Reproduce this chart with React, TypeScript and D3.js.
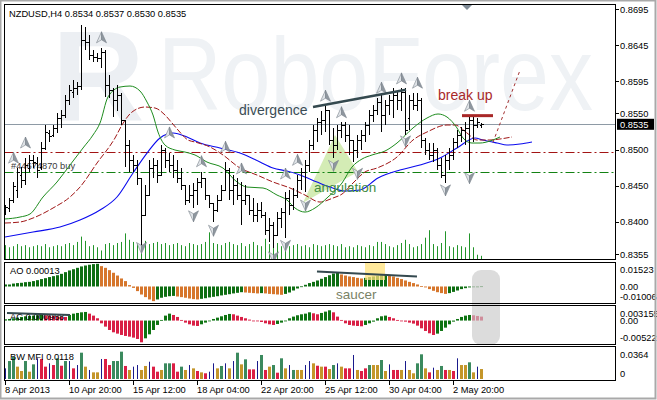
import React from "react";
import * as d3 from "d3";

// ---------- price data (H4 bars, 8 Apr 2013 04:00 .. 3 May 2013) ----------
const opens = [
  0.8413, 0.8419, 0.843, 0.8444, 0.8465, 0.8458, 0.8474, 0.8485, 0.8481, 0.8476,
  0.8502, 0.8523, 0.852, 0.853, 0.8544, 0.8548, 0.8569, 0.858, 0.8585, 0.8588,
  0.8652, 0.8649, 0.8631, 0.8628, 0.8627, 0.8635, 0.859, 0.8583, 0.8569, 0.8576,
  0.8541, 0.8506, 0.8485, 0.8478, 0.8461, 0.8409, 0.8437, 0.8474, 0.8478, 0.8465,
  0.8499, 0.8485, 0.8478, 0.8472, 0.8461, 0.8451, 0.843, 0.8437, 0.8444, 0.8455,
  0.8461, 0.8437, 0.8426, 0.8416, 0.843, 0.8444, 0.8472, 0.8444, 0.8451, 0.8437,
  0.843, 0.8437, 0.8416, 0.8409, 0.8416, 0.8409, 0.8388, 0.8395, 0.8381, 0.8405,
  0.8413, 0.8433, 0.8423, 0.8437, 0.8458, 0.8469, 0.8478, 0.8506, 0.8527, 0.8538,
  0.8541, 0.8555, 0.8513, 0.8506, 0.8527, 0.8534, 0.852, 0.8513, 0.8499, 0.8513,
  0.852, 0.8534, 0.8548, 0.8555, 0.8566, 0.8548, 0.8562, 0.8569, 0.8576, 0.8569,
  0.858, 0.8544, 0.8569, 0.8562, 0.8569, 0.8513, 0.8499, 0.8492, 0.8499, 0.8478,
  0.8465, 0.8485, 0.8492, 0.851, 0.852, 0.8527, 0.853, 0.8541, 0.8534, 0.8534,
];
const highs = [
  0.8423, 0.8433, 0.8455, 0.8474, 0.8476, 0.8488, 0.8492, 0.8492, 0.849, 0.851,
  0.8534, 0.8527, 0.8534, 0.8551, 0.8555, 0.8576, 0.859, 0.8596, 0.8594, 0.8673,
  0.867, 0.8659, 0.8638, 0.8634, 0.8641, 0.8638, 0.8603, 0.8585, 0.859, 0.8579,
  0.8541, 0.8513, 0.8492, 0.8485, 0.8461, 0.8451, 0.8485, 0.8488, 0.8485, 0.8506,
  0.8502, 0.8495, 0.8492, 0.8485, 0.8474, 0.8451, 0.8451, 0.8454, 0.8461, 0.8469,
  0.8461, 0.8437, 0.8426, 0.8437, 0.8451, 0.8483, 0.8474, 0.8465, 0.8461, 0.8455,
  0.8451, 0.8437, 0.8433, 0.8426, 0.8427, 0.8413, 0.8405, 0.8399, 0.8413, 0.8419,
  0.8441, 0.8444, 0.8447, 0.8465, 0.8474, 0.8485, 0.8513, 0.8534, 0.8544, 0.8553,
  0.8562, 0.8555, 0.853, 0.8534, 0.8538, 0.8538, 0.8534, 0.8513, 0.852, 0.8527,
  0.8538, 0.8555, 0.8562, 0.8572, 0.8576, 0.8569, 0.8576, 0.8585, 0.858, 0.8585,
  0.8585, 0.8576, 0.8579, 0.8579, 0.8572, 0.8516, 0.8509, 0.8509, 0.8502, 0.8488,
  0.8492, 0.8502, 0.8516, 0.8527, 0.8531, 0.8538, 0.8548, 0.8548, 0.8544, 0.8537,
];
const lows = [
  0.8409, 0.8413, 0.8426, 0.8433, 0.8447, 0.8451, 0.8469, 0.8474, 0.8461, 0.8472,
  0.8499, 0.851, 0.8517, 0.8523, 0.853, 0.8544, 0.8562, 0.8572, 0.8576, 0.8583,
  0.8638, 0.8624, 0.8621, 0.8621, 0.8613, 0.8573, 0.8572, 0.8545, 0.8553, 0.8534,
  0.8476, 0.8469, 0.8469, 0.8451, 0.8368, 0.8409, 0.8437, 0.8461, 0.8454, 0.8465,
  0.8474, 0.8469, 0.8461, 0.8454, 0.8444, 0.8423, 0.8426, 0.8419, 0.8423, 0.8447,
  0.843, 0.8419, 0.8399, 0.8413, 0.843, 0.8444, 0.843, 0.8423, 0.843, 0.8395,
  0.8423, 0.8409, 0.8399, 0.8399, 0.8405, 0.8381, 0.8372, 0.8364, 0.838, 0.8391,
  0.8377, 0.8409, 0.8416, 0.8433, 0.8444, 0.8441, 0.8469, 0.8499, 0.851, 0.852,
  0.8524, 0.8506, 0.8488, 0.8499, 0.8516, 0.851, 0.8492, 0.8483, 0.8488, 0.8499,
  0.851, 0.852, 0.8538, 0.8548, 0.8524, 0.8534, 0.8548, 0.8544, 0.8555, 0.8553,
  0.852, 0.8527, 0.8555, 0.8553, 0.8502, 0.8492, 0.8485, 0.8483, 0.8472, 0.8461,
  0.8454, 0.8472, 0.8485, 0.8502, 0.851, 0.8506, 0.8469, 0.851, 0.853, 0.853,
];
const closes = [
  0.842, 0.843, 0.8449, 0.8469, 0.8458, 0.8478, 0.8485, 0.8483, 0.8472, 0.8502,
  0.8524, 0.8519, 0.853, 0.8544, 0.8548, 0.8569, 0.8583, 0.8585, 0.8588, 0.8652,
  0.8649, 0.8631, 0.8628, 0.8627, 0.8635, 0.859, 0.8583, 0.8569, 0.8576, 0.8541,
  0.8506, 0.8485, 0.8478, 0.8461, 0.8409, 0.8437, 0.8474, 0.8478, 0.8465, 0.8499,
  0.8485, 0.8478, 0.8472, 0.8461, 0.8451, 0.843, 0.8437, 0.8444, 0.8455, 0.8461,
  0.8437, 0.8426, 0.8416, 0.843, 0.8444, 0.8472, 0.8444, 0.8451, 0.8437, 0.843,
  0.8437, 0.8416, 0.8409, 0.8416, 0.8409, 0.8388, 0.8395, 0.8381, 0.8405, 0.8413,
  0.8433, 0.8423, 0.8437, 0.8458, 0.8469, 0.8478, 0.8506, 0.8527, 0.8538, 0.8541,
  0.8555, 0.8513, 0.8506, 0.8527, 0.8534, 0.852, 0.8513, 0.8499, 0.8513, 0.852,
  0.8534, 0.8548, 0.8555, 0.8566, 0.8548, 0.8562, 0.8569, 0.8576, 0.8569, 0.858,
  0.8527, 0.8569, 0.8562, 0.8569, 0.8513, 0.8499, 0.8492, 0.8499, 0.8478, 0.8465,
  0.8485, 0.8492, 0.851, 0.852, 0.8527, 0.853, 0.8541, 0.8534, 0.8538, 0.8535,
];
const volumes = [
  1300, 1100, 1200, 1400, 1200, 1300, 1100, 1200, 1300, 1200, 1400, 1100, 1200, 1300, 1200, 1400, 1500, 1300, 1600,
  2100, 1700, 1200, 1300, 1100, 800, 1400, 1500, 1300, 1500, 1600,
  2400, 1800, 1600, 1500, 2100, 1700, 1400, 1500, 1600, 1400,
  1500, 1300, 1400, 1500, 1300, 1200, 1500, 1400, 1300, 1400,
  1600, 2500, 1500, 1400, 1300, 1500, 1600, 1400, 1300, 1500,
  1200, 1400, 1600, 1300, 1200, 1900, 1400, 1300, 1500, 1200,
  1400, 1200, 1300, 1400, 1200, 1300, 1100, 1400, 1300, 1200,
  1300, 1400, 1300, 1200, 1400, 1100, 1200, 1100, 1300, 1200,
  1100, 1300, 1200, 1600, 1600, 1400, 1200, 1100, 1300, 1500,
  1800, 1400, 1100, 1200, 1400, 2000, 2700, 1400, 1200, 1500,
  2600, 1200, 1100, 1300, 1200, 1100, 2400, 1100, 400, 300,
];

// ---------- Alligator lines: [bar index, price] ----------
const jawPts: [number, number][] = [
  [0, 0.83785], [7, 0.83855], [13.75, 0.83924], [18.75, 0.84021], [23.75, 0.8416], [28, 0.84341],
  [32, 0.84674], [35.5, 0.84951], [38.75, 0.8516], [42, 0.85229], [45.5, 0.85173], [48.75, 0.8509],
  [53.75, 0.85021], [58.75, 0.84951], [63.75, 0.84826], [67, 0.84743], [70.5, 0.84701], [73.75, 0.84646],
  [78, 0.84549], [81.25, 0.84479], [85, 0.84424], [88.75, 0.84438], [93.25, 0.84604], [98.75, 0.84715],
  [103.75, 0.84785], [108.75, 0.84882], [113, 0.85021], [117.5, 0.8516], [119.5, 0.85132], [123, 0.8509],
  [125.5, 0.85062], [128.75, 0.85076], [131.75, 0.85104],
];
const teethPts: [number, number][] = [
  [0, 0.8398], [3.75, 0.83994], [7, 0.84049], [12, 0.84188], [16.25, 0.84341], [18.75, 0.84479],
  [23, 0.84812], [27.5, 0.8516], [29.25, 0.8534], [31.75, 0.8552], [35, 0.8559], [37.5, 0.85576],
  [40, 0.85479], [41.75, 0.85368], [43.25, 0.85271], [45.75, 0.85132], [47.5, 0.85104], [51.25, 0.85035],
  [54.5, 0.84924], [58.75, 0.84743], [63, 0.84646], [67, 0.84549], [71.25, 0.84466], [75, 0.84368],
  [78.75, 0.84271], [82, 0.84327], [84.25, 0.84382], [87, 0.84535], [90, 0.84688], [93, 0.84743],
  [98, 0.84896], [102, 0.85132], [105.5, 0.85243], [110.5, 0.8534], [112.5, 0.8534], [115.5, 0.85229],
  [118, 0.85132], [121.25, 0.85132], [123.75, 0.85146], [126.75, 0.85174],
];
const lipsPts: [number, number][] = [
  [0, 0.84036], [3.75, 0.84063], [6.25, 0.84105], [9.5, 0.84341], [13, 0.84549], [16.25, 0.84785],
  [19.5, 0.85021], [22, 0.85201], [23.75, 0.85368], [25.75, 0.85729], [28.75, 0.85867], [31.25, 0.85881],
  [33.75, 0.85812], [35.5, 0.85659], [37, 0.85479], [38.25, 0.85243], [40, 0.85062], [42.5, 0.84993],
  [45, 0.84965], [47.5, 0.84924], [50.5, 0.84826], [54.5, 0.84743], [58, 0.84549], [60.5, 0.84479],
  [64.5, 0.84466], [68, 0.84368], [70.5, 0.84299], [72.5, 0.84188], [75, 0.84132], [77.5, 0.84188],
  [80.75, 0.84341], [84.25, 0.84535], [86.75, 0.84757], [89.25, 0.84868], [91.75, 0.84924], [95, 0.84979],
  [98, 0.8509], [102, 0.85299], [105.5, 0.85437], [108.25, 0.85493], [110.5, 0.85451], [113, 0.85299],
  [114.5, 0.8516], [116.75, 0.8509], [118.75, 0.8509], [121.25, 0.85118], [123.75, 0.85174],
];

// ---------- fractals: [bar index, price] ----------
const fractalUp: [number, number][] = [
  [2, 0.8488], [5, 0.8509], [24, 0.8655], [41, 0.8523], [49, 0.8483], [55, 0.8503], [59, 0.8473],
  [70, 0.8466], [73, 0.8485], [80, 0.8574], [84, 0.8551], [94, 0.8585], [99, 0.8598], [103, 0.8592], [116, 0.856],
];
const fractalDown: [number, number][] = [
  [34, 0.8364], [47, 0.8408], [52, 0.8388], [67, 0.8351], [70, 0.8367], [75, 0.8423], [82, 0.8478],
  [88, 0.8467], [100, 0.8512], [110, 0.8444], [116, 0.8461],
];

// ---------- oscillators ----------
const aoValues = [
  0.0013, 0.0013, 0.0019, 0.0022, 0.0024, 0.0028, 0.003, 0.0035, 0.0041, 0.0048,
  0.0054, 0.0061, 0.0067, 0.0073, 0.0082, 0.0093, 0.0104, 0.0112, 0.0121, 0.013,
  0.0136, 0.0141, 0.0145, 0.0147, 0.0132, 0.0121, 0.0106, 0.0089, 0.0071, 0.0052,
  0.0035, 0.0009, -0.0009, -0.003, -0.0052, -0.0069, -0.0084, -0.0095, -0.0084, -0.0073,
  -0.0067, -0.0063, -0.0061, -0.0065, -0.0069, -0.0073, -0.0078, -0.0082, -0.0084, -0.008,
  -0.0076, -0.0071, -0.0067, -0.0063, -0.0058, -0.0054, -0.005, -0.0045, -0.0041, -0.0037,
  -0.0039, -0.0041, -0.0043, -0.0045, -0.0043, -0.0045, -0.0048, -0.005, -0.0052, -0.0054,
  -0.0048, -0.0039, -0.0026, -0.0013, 0.0001, 0.0011, 0.0022, 0.003, 0.0039, 0.005,
  0.0061, 0.0073, 0.0084, 0.0089, 0.0078, 0.0071, 0.0065, 0.0061, 0.0056, 0.0052,
  0.0056, 0.0061, 0.0065, 0.0069, 0.0073, 0.0076, 0.0071, 0.0065, 0.0056, 0.0048,
  0.0039, 0.003, 0.0022, 0.0013, 0.0002, -0.0006, -0.0017, -0.0028, -0.0037, -0.0043,
  -0.0048, -0.0043, -0.0035, -0.0026, -0.0017, -0.0011, -0.0006, -0.0004, -0.0002, 0.00013,
];
const acValues = [
  0.00029, 0.00037, 0.00053, 0.00068, 0.00084, 0.00099, 0.00107, 0.00115, 0.00123, 0.0013,
  0.00123, 0.00115, 0.00107, 0.00099, 0.00092, 0.00084, 0.0013, 0.00161, 0.00177, 0.00192,
  0.002, 0.00161, 0.00115, 0.00053, -0.00064, -0.00141, -0.00219, -0.00273, -0.00304, -0.00335,
  -0.00358, -0.00374, -0.00397, -0.00428, -0.00506, -0.00413, -0.0032, -0.00219, -0.00102, 0.00014,
  0.00115, 0.00161, 0.0013, 0.00084, 0.00014, -0.00048, -0.00087, -0.00118, -0.00126, -0.00087,
  -0.00048, -0.00009, 0.00037, 0.00068, 0.00099, 0.0013, 0.00154, 0.00146, 0.00115, 0.00084,
  0.00053, 0.00022, -0.00002, -0.00017, -0.00033, -0.00064, -0.00087, -0.00102, -0.00079, -0.00048,
  -0.00009, 0.00053, 0.00092, 0.00123, 0.00146, 0.00161, 0.00192, 0.00169, 0.00146, 0.00177,
  0.00208, 0.00239, 0.00192, 0.00092, 0.00014, -0.00064, -0.00102, -0.00118, -0.00126, -0.00133,
  -0.00102, -0.00064, -0.00025, 0.00053, 0.00099, 0.00115, 0.00084, 0.00053, 0.00014, -0.00009,
  -0.00025, -0.00048, -0.00071, -0.00118, -0.0018, -0.00242, -0.00296, -0.00335, -0.00304, -0.00242,
  -0.00165, -0.00087, -0.00025, 0.00037, 0.00084, 0.00115, 0.0013, 0.00123, 0.00107, 0.00092,
];
const mfiValues = [
  0.0125, 0.0211, 0.0262, 0.0145, 0.0094, 0.0211, 0.0086, 0.0172, 0.0243, 0.0235,
  0.0145, 0.0184, 0.0164, 0.0243, 0.0156, 0.0211, 0.0211, 0.0125, 0.0164, 0.0309,
  0.0145, 0.0106, 0.0078, 0.0078, 0.0235, 0.0235, 0.0164, 0.0211, 0.0211, 0.0321,
  0.0153, 0.0106, 0.0145, 0.0164, 0.0106, 0.0153, 0.0203, 0.0145, 0.0086, 0.0106,
  0.0184, 0.0184, 0.0184, 0.0086, 0.0145, 0.0106, 0.0164, 0.0125, 0.0094, 0.0078,
  0.0067, 0.0086, 0.0184, 0.0125, 0.0153, 0.0184, 0.0125, 0.0211, 0.0309, 0.0172,
  0.0231, 0.0113, 0.0113, 0.0211, 0.0282, 0.0106, 0.0145, 0.0164, 0.0074, 0.0243,
  0.0125, 0.0164, 0.0106, 0.0106, 0.0106, 0.0164, 0.0211, 0.0184, 0.0156, 0.0145,
  0.0145, 0.0117, 0.0164, 0.0184, 0.0145, 0.0125, 0.0125, 0.0282, 0.0106, 0.0094,
  0.0125, 0.0164, 0.0164, 0.0164, 0.0223, 0.0094, 0.0172, 0.0106, 0.0106, 0.0106,
  0.0211, 0.0106, 0.0067, 0.0184, 0.029, 0.0125, 0.0078, 0.0133, 0.0106, 0.0153,
  0.0106, 0.0106, 0.0094, 0.0243, 0.0164, 0.0164, 0.0196, 0.0078, 0.0145, 0.0117,
];
// g: MFI up & volume up, r: MFI down & volume up, y: MFI down & volume down, b: MFI up & volume down
const mfiKinds = (
  "bggyygygbr" + "rbrgrgbrbg" + "ybyybrrggg" + "rybbyybrry" + "ggrrgybyry" +
  "rbbygbybgy" + "grrbgrygrg" + "ybgyybbyry" + "rygbyrrbyr" + "rgyygybrry" +
  "byyggyrbyg" + "ryrbyygyby"
).split("");

// ---------- axis labels ----------
const timeTickIdx = [0, 16, 32, 48, 64, 80, 96, 112];
const timeTickLabels = ["8 Apr 2013", "10 Apr 20:00", "15 Apr 12:00", "18 Apr 04:00", "22 Apr 20:00", "25 Apr 12:00", "30 Apr 04:00", "2 May 20:00"];
const priceTicks = [0.8695, 0.8645, 0.8595, 0.855, 0.85, 0.845, 0.84, 0.8355];
const currentPrice = 0.8535;
const stopLevel = 0.8496;
const orderLevel = 0.8469;
const aoRange = [-0.01006, 0.01523];
const acRange = [-0.00522, 0.003155];
const mfiMax = 0.0364;

// annotations in data coordinates
const divergencePrice: [number, number][] = [[77, 0.8559], [100.25, 0.8583]];
const divergenceAO: [number, number][] = [[78, 0.0097], [103, 0.0065]];
const acMark: [number, number][] = [[0.5, 0.00177], [16.25, 0.0013]];
const angulationTri: [number, number][] = [[74.5, 0.8426], [82.5, 0.852], [88.25, 0.8469]];
const breakLevel: [number, number][] = [[114.25, 0.8547], [122, 0.8547]];
const breakProjection: [number, number][] = [[122, 0.851], [128.75, 0.861]];

const FONT = "'Liberation Sans', Arial, sans-serif";

const x = d3.scaleLinear().domain([0, 1]).range([5, 9]);
const yMain = d3.scaleLinear().domain([0.8355, 0.8695]).range([254, 9]);
const yAO = d3.scaleLinear().domain(aoRange).range([302, 263]);
const yAC = d3.scaleLinear().domain(acRange).range([343, 307]);
const yMFI = d3.scaleLinear().domain([0, mfiMax]).range([379, 348]);
const yVol = d3.scaleLinear().domain([0, 3000]).range([259, 227]);

const mfiColor: Record<string, string> = { g: "#3b8a5e", r: "#dc1f45", y: "#c4962a", b: "#1a1a8c" };

function FractalArrow({ cx, cy, up }: { cx: number; cy: number; up: boolean }) {
  const s = up ? 1 : -1;
  const tip = cy - 6 * s;
  const base = cy + 5 * s;
  const notch = cy + 2 * s;
  return (
    <g>
      <path d={`M${cx},${tip} L${cx - 5},${base} L${cx},${notch} Z`} fill="#dfe3e7" stroke="#7b838b" strokeWidth={0.6} />
      <path d={`M${cx},${tip} L${cx + 5},${base} L${cx},${notch} Z`} fill="#8f979f" stroke="#7b838b" strokeWidth={0.6} />
    </g>
  );
}

export default function App() {
  const N = closes.length;
  const idx = d3.range(N);
  const line = d3
    .line<[number, number]>()
    .x((d) => x(d[0]))
    .y((d) => yMain(d[1]))
    .curve(d3.curveMonotoneX);
  const straight = d3.line<[number, number]>().x((d) => x(d[0])).y((d) => yMain(d[1]));

  const barPath = idx
    .map((i) => {
      const cx = x(i) + 0.5;
      return `M${cx},${yMain(highs[i])}V${yMain(lows[i])}M${cx - 2},${Math.round(yMain(opens[i])) + 0.5}H${cx}M${cx},${Math.round(yMain(closes[i])) + 0.5}H${cx + 2}`;
    })
    .join("");

  const aoColor = (i: number) => (i === 0 || aoValues[i] >= aoValues[i - 1] ? "#0e6e12" : "#d6762c");
  const acColor = (i: number) => (i === 0 || acValues[i] >= acValues[i - 1] ? "#0e7412" : "#d91f45");

  const left = 4.5, right = 615.5;
  const txt = { fontFamily: FONT, fontSize: 9.3, fill: "#000" } as const;

  return (
    <svg width={657} height={400} style={{ position: "fixed", left: 0, top: 0, background: "#fff" }}>
      <defs>
        <clipPath id="mainClip"><rect x={5} y={5} width={610} height={254} /></clipPath>
        <clipPath id="aoClip"><rect x={5} y={263} width={610} height={40} /></clipPath>
        <clipPath id="acClip"><rect x={5} y={307} width={610} height={37} /></clipPath>
      </defs>
      <rect x={0} y={0} width={657} height={400} fill="#fff" />

      {/* watermark */}
      <g clipPath="url(#mainClip)">
        <text x={52} y={121} fontFamily={FONT} fontWeight="bold" fontSize={128} fill="#eceff3">R</text>
        <text x={158} y={110} fontFamily={FONT} fontSize={104} fill="#eff2f5" textLength={435} lengthAdjust="spacingAndGlyphs">RoboForex</text>
      </g>

      {/* main panel */}
      <g clipPath="url(#mainClip)">
        <path d={`M${angulationTri.map((p) => `${x(p[0])},${yMain(p[1])}`).join("L")}Z`} fill="#c6e59c" opacity={0.75} />
        {idx.map((i) => (
          <rect key={`v${i}`} x={x(i)} y={yVol(volumes[i])} width={1} height={259 - yVol(volumes[i])} fill="#22952a" />
        ))}
        <line x1={left} x2={right} y1={Math.round(yMain(currentPrice)) + 0.5} y2={Math.round(yMain(currentPrice)) + 0.5} stroke="#8e9aa5" strokeWidth={1} />
        <line x1={left} x2={right} y1={Math.round(yMain(stopLevel)) + 0.5} y2={Math.round(yMain(stopLevel)) + 0.5} stroke="#a31414" strokeWidth={1} strokeDasharray="9,3,2,3" />
        <line x1={left} x2={right} y1={Math.round(yMain(orderLevel)) + 0.5} y2={Math.round(yMain(orderLevel)) + 0.5} stroke="#138213" strokeWidth={1} strokeDasharray="9,3,2,3" />
        <text x={x(1.5)} y={yMain(orderLevel) - 3} {...txt} fill="#3a3a3a">#44674870 buy</text>

        <path d={line(jawPts) || ""} fill="none" stroke="#0a0aee" strokeWidth={1.1} />
        <path d={line(teethPts) || ""} fill="none" stroke="#a01616" strokeWidth={1} strokeDasharray="6,2" />
        <path d={line(lipsPts) || ""} fill="none" stroke="#1e8c1e" strokeWidth={1} />

        <path d={barPath} fill="none" stroke="#000" strokeWidth={1} shapeRendering="crispEdges" />

        {fractalUp.map((f, k) => (
          <FractalArrow key={`u${k}`} cx={x(f[0]) + 0.5} cy={yMain(f[1])} up={true} />
        ))}
        {fractalDown.map((f, k) => (
          <FractalArrow key={`d${k}`} cx={x(f[0]) + 0.5} cy={yMain(f[1])} up={false} />
        ))}

        <path d={straight(divergencePrice) || ""} stroke="#34494f" strokeWidth={2.5} fill="none" />
        <text x={x(58.5)} y={yMain(0.8548)} fontFamily={FONT} fontSize={14} fill="#3b4d55">divergence</text>
        <text x={x(77.25)} y={yMain(0.8441)} fontFamily={FONT} fontSize={13.5} fill="#3f8c3f">angulation</text>
        <path d={straight(breakLevel) || ""} stroke="#a82828" strokeWidth={3} fill="none" />
        <path d={straight(breakProjection) || ""} stroke="#a33030" strokeWidth={1} strokeDasharray="3,3" fill="none" />
        <text x={x(108.25)} y={yMain(0.8569)} fontFamily={FONT} fontSize={14} fill="#a82828">break up</text>
      </g>
      <polygon points="462,5 472,5 467,10" fill="#7f8b96" />
      <text x={9} y={16.5} {...txt}>NZDUSD,H4  0.8534 0.8537 0.8530 0.8535</text>

      {/* AO */}
      <g clipPath="url(#aoClip)">
        {idx.map((i) => {
          const y0 = yAO(0), y1 = yAO(aoValues[i]);
          return <rect key={`ao${i}`} x={x(i) - 1} width={3} y={Math.min(y0, y1)} height={Math.max(0.8, Math.abs(y1 - y0))} fill={aoColor(i)} />;
        })}
        <rect x={x(90)} y={263} width={x(95) - x(90)} height={17} fill="#ffe27a" opacity={0.75} />
        <path d={d3.line<[number, number]>().x((d) => x(d[0])).y((d) => yAO(d[1]))(divergenceAO) || ""} stroke="#34494f" strokeWidth={2} fill="none" />
        <text x={x(82.75)} y={yAO(-0.0084)} fontFamily={FONT} fontSize={13.5} fill="#7a8266">saucer</text>
      </g>
      <text x={10} y={274} {...txt}>AO 0.00013</text>

      {/* AC */}
      <g clipPath="url(#acClip)">
        {idx.map((i) => {
          const y0 = yAC(0), y1 = yAC(acValues[i]);
          return <rect key={`ac${i}`} x={x(i) - 1} width={3} y={Math.min(y0, y1)} height={Math.max(0.8, Math.abs(y1 - y0))} fill={acColor(i)} />;
        })}
      </g>
      <text x={10} y={320} {...txt}>AC 0.000988</text>
      <path d={d3.line<[number, number]>().x((d) => x(d[0])).y((d) => yAC(d[1]))(acMark) || ""} stroke="#34494f" strokeWidth={2} fill="none" />

      {/* BW MFI */}
      {idx.map((i) => {
        const k = mfiKinds[i];
        const w = k === "b" ? 1 : 3;
        return <rect key={`m${i}`} x={k === "b" ? x(i) : x(i) - 1} width={w} y={yMFI(mfiValues[i])} height={379 - yMFI(mfiValues[i])} fill={mfiColor[k]} />;
      })}
      <text x={10} y={359.5} {...txt}>BW MFI 0.0118</text>

      {/* highlight box across AO / AC */}
      <rect x={x(116.75)} y={270} width={x(123.75) - x(116.75)} height={75} rx={9} fill="#c9c9c9" opacity={0.65} />

      {/* panel borders */}
      <rect x={4.5} y={4.5} width={611} height={255} fill="none" stroke="#000" />
      <rect x={4.5} y={262.5} width={611} height={41} fill="none" stroke="#000" />
      <rect x={4.5} y={305.5} width={611} height={39} fill="none" stroke="#000" />
      <rect x={4.5} y={346.5} width={611} height={34} fill="none" stroke="#000" />

      {/* right price axis */}
      {priceTicks.map((p) => (
        <g key={`p${p}`}>
          <line x1={615} x2={619} y1={Math.round(yMain(p)) + 0.5} y2={Math.round(yMain(p)) + 0.5} stroke="#000" />
          <text x={620} y={yMain(p) + 3.5} {...txt}>{p.toFixed(4)}</text>
        </g>
      ))}
      <rect x={617} y={yMain(currentPrice) - 5.5} width={37} height={11} fill="#000" />
      <text x={620} y={yMain(currentPrice) + 3.5} {...txt} fill="#fff">{currentPrice.toFixed(4)}</text>

      <text x={620} y={yAO(aoRange[1]) + 9.5} {...txt}>{aoRange[1].toFixed(5)}</text>
      <text x={620} y={yAO(0) + 3.3} {...txt}>0.00</text>
      <text x={620} y={yAO(aoRange[0]) - 2} {...txt}>{aoRange[0].toFixed(5)}</text>
      <text x={620} y={yAC(acRange[1]) + 9.5} {...txt}>{acRange[1].toFixed(6)}</text>
      <text x={620} y={yAC(0) + 3.3} {...txt}>0.00</text>
      <text x={620} y={yAC(acRange[0]) - 2.5} {...txt}>{acRange[0].toFixed(5)}</text>
      <text x={620} y={yMFI(mfiMax) + 9.5} {...txt}>{mfiMax.toFixed(4)}</text>
      <text x={620} y={377} {...txt}>0</text>

      {/* time axis */}
      {timeTickIdx.map((t, k) => (
        <g key={`t${t}`}>
          <line x1={x(t) + 0.5} x2={x(t) + 0.5} y1={381} y2={385} stroke="#000" />
          <text x={x(t)} y={393} {...txt}>{timeTickLabels[k]}</text>
        </g>
      ))}

      {/* outer frame */}
      <rect x={0.5} y={0.5} width={655} height={398} fill="none" stroke="#a9a9a9" strokeWidth={2} />
    </svg>
  );
}
